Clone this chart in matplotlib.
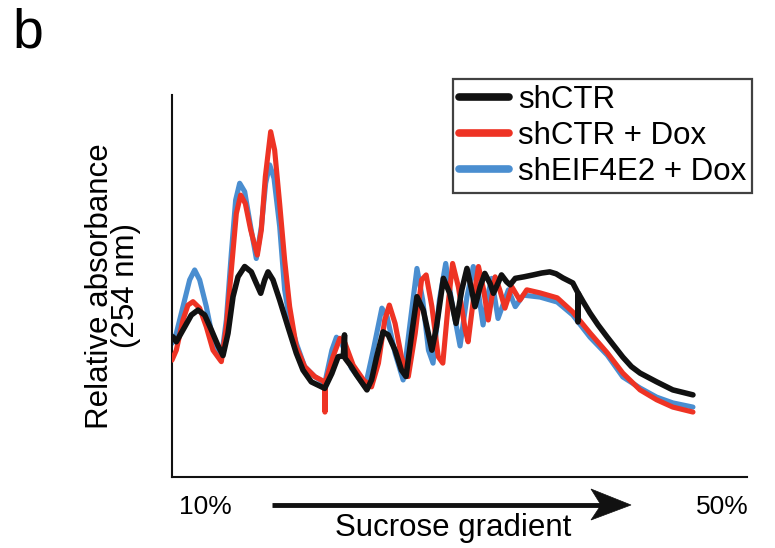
import matplotlib
matplotlib.use("Agg")
import matplotlib.pyplot as plt
from matplotlib.patches import Polygon
from matplotlib.lines import Line2D

plt.rcParams['font.family'] = ['Liberation Sans', 'DejaVu Sans']

# Gradient position (% of fractionation run) and relative absorbance (a.u.)
shctr_x = [0.17, 0.75, 2.21, 3.36, 4.52, 5.69, 6.84, 8.00, 8.87, 9.74, 10.61, 11.48,
           12.64, 13.79, 14.66, 15.43, 16.12, 16.70, 17.56, 18.73, 20.17, 21.62, 22.78,
           24.23, 26.56, 27.8, 28.9, 29.8, 30.0, 30.1, 31.0, 32.1, 33.9, 34.7, 35.6,
           36.7, 37.6, 38.8, 39.9, 40.7, 41.7, 42.6, 43.7, 45.2, 46.0, 47.2, 48.3,
           49.4, 50.4, 51.3, 52.1, 52.7, 53.6, 54.4, 55.3, 55.9, 56.8, 57.3, 58.2,
           58.8, 59.7, 61.2, 62.8, 64.3, 65.7, 66.8, 68.0, 69.7, 70.6, 70.6, 70.7,
           71.5, 72.7, 74.1, 75.7, 77.0, 78.4, 79.9, 81.4, 84.3, 87.1, 90.6]
shctr_y = [36.7, 35.4, 39.3, 42.4, 43.7, 42.4, 38.5, 34.4, 31.8, 37.6, 47.2, 52.4,
           55.1, 53.7, 50.7, 48.1, 51.6, 53.7, 51.6, 46.3, 39.3, 32.4, 28.0,
           24.9, 23.2, 27.1, 31.5, 31.7, 37.2, 31.1, 29.3, 26.7, 22.8, 25.4, 31.5,
           38.0, 37.2, 33.2, 28.0, 26.3, 37.6, 47.2, 43.7, 33.2, 39.3, 52.0, 48.1,
           40.2, 49.0, 54.6, 49.0, 44.6, 49.8, 53.3, 50.7, 48.1, 51.1, 52.9, 51.1,
           50.3, 52.0, 52.4, 52.9, 53.4, 53.7, 53.2, 52.1, 50.8, 48.2, 40.6, 48.0,
           45.9, 42.9, 39.8, 36.6, 34.1, 31.4, 28.9, 27.2, 24.9, 22.8, 21.5]

shctr_dox_x = [0.0, 0.75, 1.91, 2.78, 3.65, 4.81, 5.97, 7.13, 8.58, 9.45, 10.32, 11.19,
               11.94, 12.75, 13.68, 14.84, 15.54, 16.23, 17.16, 17.85, 18.72, 19.59,
               20.46, 21.62, 23.07, 24.81, 26.56, 26.6, 26.65, 28.0, 29.2, 30.1, 31.5,
               33.3, 34.7, 35.9, 37.0, 37.8, 38.8, 39.9, 41.1, 42.3, 43.4, 44.2, 45.2,
               46.3, 47.1, 48.1, 48.8, 49.8, 51.0, 51.5, 52.4, 53.3, 54.2, 55.0, 56.2,
               57.0, 57.9, 59.1, 60.5, 61.7, 64.0, 67.0, 69.7, 72.7, 75.7, 78.4, 81.4,
               84.3, 87.1, 90.6]
shctr_dox_y = [30.6, 33.2, 41.1, 45.0, 45.9, 44.2, 39.3, 33.2, 30.2, 39.3, 54.2, 69.0,
               73.8, 71.6, 64.7, 58.1, 64.7, 78.6, 90.4, 85.6, 71.6, 56.8,
               44.6, 34.1, 28.9, 26.3, 24.9, 17.0, 24.5, 31.5, 36.3, 35.0, 29.3,
               25.4, 23.6, 29.8, 41.1, 45.0, 40.2, 31.5, 26.3, 37.6, 51.6, 52.9, 44.6,
               31.5, 29.8, 46.3, 55.9, 49.8, 38.5, 35.4, 46.3, 55.1, 49.0, 41.1, 52.4,
               49.0, 44.2, 49.8, 46.3, 49.0, 48.2, 46.9, 43.2, 37.7, 32.5, 27.2, 22.8,
               20.2, 18.3, 17.0]

sheif_dox_x = [0.0, 0.75, 1.91, 3.07, 3.94, 4.81, 5.97, 7.13, 8.58, 9.45, 10.32, 11.07,
               11.77, 12.64, 13.68, 14.66, 15.54, 16.29, 16.99, 17.74, 18.73, 19.59,
               20.46, 21.62, 23.07, 24.81, 26.56, 27.8, 28.6, 29.5, 31.2, 33.6, 35.0,
               36.5, 37.4, 38.8, 40.2, 41.4, 42.6, 43.6, 44.6, 45.4, 46.5, 47.6, 48.6,
               50.1, 51.3, 52.4, 53.3, 54.1, 55.0, 55.6, 56.7, 58.5, 59.7, 61.1, 64.0,
               67.0, 69.7, 72.7, 75.7, 78.4, 81.4, 84.3, 87.1, 90.6]
sheif_dox_y = [35.0, 37.6, 44.6, 51.6, 54.2, 51.6, 44.6, 35.9, 31.1, 41.1, 58.6, 72.5,
               76.9, 74.7, 65.5, 57.2, 65.5, 76.9, 81.7, 78.2, 65.5, 49.0,
               41.1, 35.0, 28.9, 26.3, 24.5, 33.2, 36.6, 35.0, 28.5, 23.6, 33.2,
               44.2, 42.0, 32.4, 25.4, 40.2, 54.6, 46.3, 33.2, 29.8, 46.3, 55.9, 46.3,
               34.3, 47.2, 55.1, 48.1, 39.8, 48.1, 52.0, 41.5, 49.0, 44.6, 47.6, 47.1,
               45.8, 42.4, 36.6, 31.9, 26.2, 23.3, 20.9, 19.4, 18.3]

labels = ["shCTR", "shCTR + Dox", "shEIF4E2 + Dox"]
colors = ["#111111", "#EE3324", "#4A8ED0"]

W, H = 775, 548
fig = plt.figure(figsize=(W / 100, H / 100), dpi=100)
ax = fig.add_axes([172 / W, (H - 477) / H, (747 - 172) / W, (477 - 95) / H])

kw = dict(solid_joinstyle='round', solid_capstyle='round')
l3, = ax.plot(sheif_dox_x, sheif_dox_y, color=colors[2], lw=3.7, zorder=2, **kw)
l2, = ax.plot(shctr_dox_x, shctr_dox_y, color=colors[1], lw=3.7, zorder=3, **kw)
l1, = ax.plot(shctr_x, shctr_y, color=colors[0], lw=4.0, zorder=4, **kw)

ax.set_xlim(0, 100)
ax.set_ylim(0, 100)
ax.set_xticks([])
ax.set_yticks([])
for s in ['top', 'right']:
    ax.spines[s].set_visible(False)
for s in ['left', 'bottom']:
    ax.spines[s].set_linewidth(1.5)
    ax.spines[s].set_color('#111111')

fs = 22.5
ax.set_ylabel("Relative absorbance\n(254 nm)", fontsize=fs, labelpad=22, linespacing=0.85)

leg = ax.legend([l1, l2, l3], labels, loc='upper right',
                bbox_to_anchor=((752 - 172) / 575, (477 - 79) / 382),
                borderaxespad=0, fontsize=fs, frameon=True, fancybox=False,
                handlelength=1.6, handletextpad=0.3, labelspacing=0.2,
                borderpad=0.18)
leg.get_frame().set_edgecolor('#111111')
leg.get_frame().set_linewidth(1.6)
for h in leg.legend_handles:
    h.set_linewidth(5.5)
    h.set_solid_capstyle('round')

def fx(px):
    return px / W

def fy(py):
    return 1 - py / H

fig.text(fx(205), fy(507), "10%", fontsize=19, ha='center', va='center')
fig.text(fx(722), fy(507), "50%", fontsize=19, ha='center', va='center')
fig.text(fx(453), fy(528), "Sucrose gradient", fontsize=fs, ha='center', va='center')
fig.text(fx(12), fy(8), "b", fontsize=40, ha='left', va='top')

# arrow: shaft + swept-back head
fig.add_artist(Line2D([fx(272), fx(602)], [fy(505), fy(505)], transform=fig.transFigure,
                      color='#111111', lw=3.5, solid_capstyle='butt'))
fig.add_artist(Polygon([[fx(631), fy(505)], [fx(591), fy(489)], [fx(601), fy(505)],
                        [fx(591), fy(520)]], closed=True, transform=fig.transFigure,
                       facecolor='#111111', edgecolor='#111111', lw=0.5))

fig.savefig("out.png", dpi=100)
